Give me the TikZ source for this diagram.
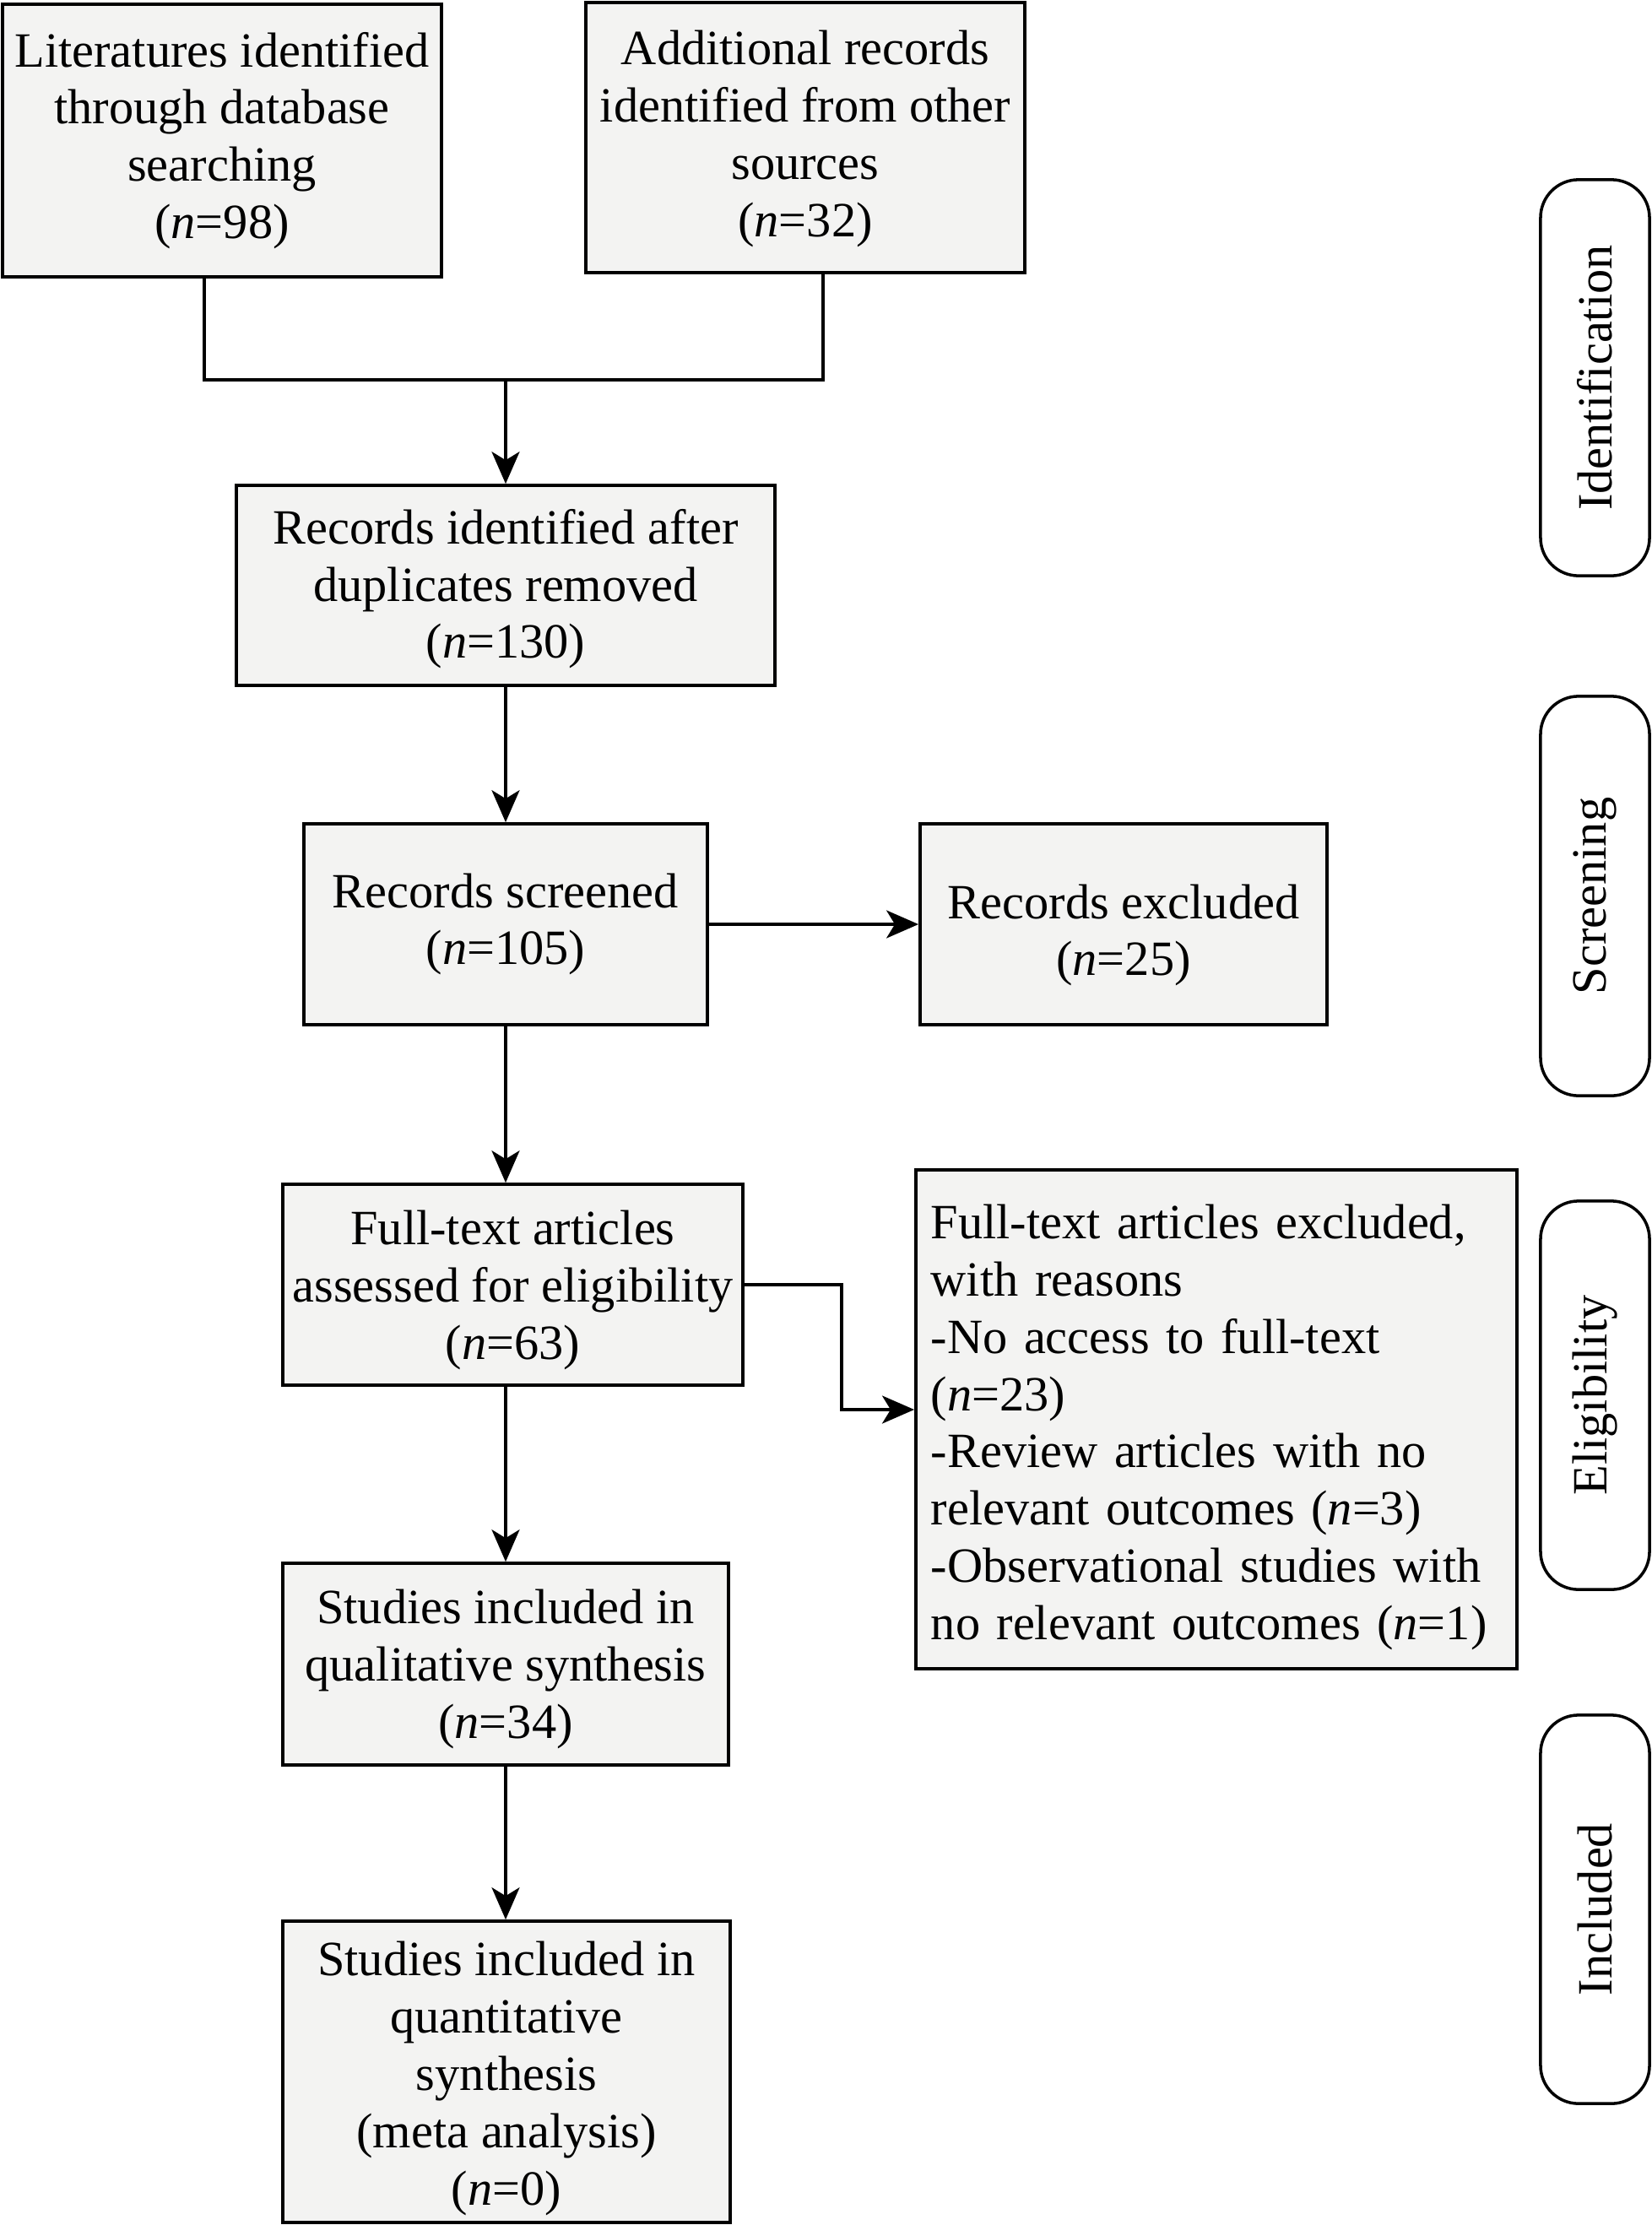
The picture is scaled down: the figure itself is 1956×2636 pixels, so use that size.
\documentclass[tikz,border=0pt]{standalone}
\usepackage{fontspec}
\setmainfont{Liberation Serif}
\usetikzlibrary{arrows.meta}
\definecolor{boxfill}{RGB}{243,243,242}
\newcommand{\tup}[1]{\rule{0pt}{#1}}
\begin{document}
\begin{tikzpicture}[x=0.01cm,y=-0.01cm,
  box/.style={draw=black,line width=1pt,fill=boxfill,inner sep=0pt,align=center,
    font=\fontsize{16.6pt}{19.3pt}\selectfont},
  sidebox/.style={draw=black,line width=1pt,rounded corners=0.45cm,inner sep=0pt,
    minimum width=1.29cm},
  sidetext/.style={rotate=90,inner sep=0pt,font=\fontsize{16.6pt}{19.3pt}\selectfont},
  arr/.style={line width=1pt,-{Stealth[length=0.38cm,width=0.33cm,inset=0.1cm]}},
  conn/.style={line width=1pt}]
\useasboundingbox (0,0) rectangle (1956,2636);

\node[box,minimum width=5.20cm,minimum height=3.23cm] (b1) at (263,166.5)
  {Literatures identified\\through database\\searching\\(\textit{n}=98)};
\node[box,minimum width=5.20cm,minimum height=3.20cm] (b2) at (954,163)
  {\tup{12.5pt}Additional records\\identified from other\\sources\\(\textit{n}=32)};
\node[box,minimum width=6.38cm,minimum height=2.37cm] (b3) at (599,693.5)
  {\tup{14.1pt}Records identified after\\duplicates removed\\(\textit{n}=130)};
\node[box,minimum width=4.78cm,minimum height=2.38cm] (b4) at (599,1095)
  {Records screened\\(\textit{n}=105)};
\node[box,minimum width=4.82cm,minimum height=2.38cm] (b5) at (1331,1095)
  {\tup{18.9pt}Records excluded\\(\textit{n}=25)};
\node[box,minimum width=5.45cm,minimum height=2.38cm] (b6) at (607.5,1522)
  {\tup{15.1pt}Full-text articles\\assessed for eligibility\\(\textit{n}=63)};
\node[box,minimum width=7.12cm,minimum height=5.91cm,text width=6.76cm,align=left] (b7) at (1441,1681.5)
  {\tup{16.9pt}Full-text articles excluded,\\with reasons\\-No access to full-text\\(\textit{n}=23)\\-Review articles with no\\relevant outcomes (\textit{n}=3)\\-Observational studies with\\no relevant outcomes (\textit{n}=1)};
\node[box,minimum width=5.28cm,minimum height=2.39cm] (b8) at (599,1971.5)
  {\tup{15.1pt}Studies included in\\qualitative synthesis\\(\textit{n}=34)};
\node[box,minimum width=5.30cm,minimum height=3.57cm] (b9) at (600,2454.5)
  {\tup{16.1pt}Studies included in\\quantitative\\synthesis\\(meta analysis)\\(\textit{n}=0)};

\node[sidebox,minimum height=4.69cm] (s1) at (1889.5,447.5) {};
\node[sidetext] (t1) at (s1.center) {Identification};
\node[sidebox,minimum height=4.73cm] (s2) at (1889.5,1061.5) {};
\node[sidetext] (t2) at (s2.center) {Screening};
\node[sidebox,minimum height=4.60cm] (s3) at (1889.5,1653) {};
\node[sidetext] (t3) at (s3.center) {Eligibility};
\node[sidebox,minimum height=4.60cm] (s4) at (1889.5,2262) {};
\node[sidetext] (t4) at (s4.center) {Included};

\coordinate (j) at (599,450);
\coordinate (j1) at (242,450);
\coordinate (j2) at (975,450);
\coordinate (k) at (997,1670);

\draw[conn] (b1.south -| j1) -- (j1) -- (j2) -- (b2.south -| j2);
\draw[arr] (j) -- (b3.north -| j);
\draw[arr] (b3.south -| j) -- (b4.north -| j);
\draw[arr] (b4.east) -- (b5.west);
\draw[arr] (b4.south -| j) -- (b6.north -| j);
\draw[arr] (b6.east) -| (k) -- (b7.west |- k);
\draw[arr] (b6.south -| j) -- (b8.north -| j);
\draw[arr] (b8.south -| j) -- (b9.north -| j);
\end{tikzpicture}
\end{document}
